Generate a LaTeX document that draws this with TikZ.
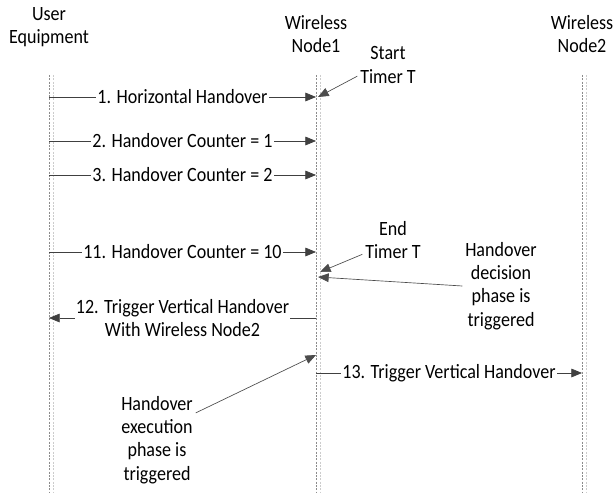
\documentclass[tikz,border=0pt]{standalone}
\usepackage{fontspec}
\setmainfont{Carlito}[FakeStretch=0.89]
\usetikzlibrary{arrows.meta}

\begin{document}
\begin{tikzpicture}[x=0.75pt,y=0.75pt,yscale=-1,xscale=1,
	font=\fontsize{15.2}{17.4}\selectfont,
	lifeline/.style={draw=black!45, line width=0.4pt, dash pattern=on 1.5pt off 1pt},
	lifeshade/.style={draw=black!20, line width=0.4pt, dash pattern=on 1.5pt off 1pt},
	msg/.style={draw=black!75, line width=0.5pt, -{Triangle[length=8pt,width=6.5pt]}},
	msglabel/.style={fill=white, inner sep=1pt, align=center},
	note/.style={align=center, inner sep=2pt},
	pointer/.style={draw=black!70, line width=0.5pt, -{Triangle[length=8pt,width=6.5pt]}}]
		%page is 613 x 492
		\useasboundingbox (0,0) rectangle (613,492);
		
		\node [note] (ue) at (49,27) {User\\Equipment};
		\node [note] (wn1) at (316,34) {Wireless\\Node1};
		\node [note] (wn2) at (582,34) {Wireless\\Node2};
		
		%lifelines
		\foreach \who/\x in {ue/49,wn1/316,wn2/582} {
			\coordinate (\who-top) at (\x,75);
			\coordinate (\who-bot) at (\x,492);
			\draw [lifeshade] ([xshift=3pt]\who-top) -- ([xshift=3pt]\who-bot);
			\draw [lifeline] (\who-top) -- (\who-bot);
		}
		
		%message levels
		\foreach \n/\y in {1/97,2/141,3/175,11/252,12/318,13/373} {
			\coordinate (ue-\n) at (49,\y);
			\coordinate (wn1-\n) at (316,\y);
			\coordinate (wn2-\n) at (582,\y);
		}
		
		\draw [msg] (ue-1) -- node [msglabel] {1. Horizontal Handover} (wn1-1);
		\draw [msg] (ue-2) -- node [msglabel] {2. Handover Counter = 1} (wn1-2);
		\draw [msg] (ue-3) -- node [msglabel] {3. Handover Counter = 2} (wn1-3);
		\draw [msg] (ue-11) -- node [msglabel] {11. Handover Counter = 10} (wn1-11);
		\draw [msg] (wn1-12) -- node [msglabel] {12. Trigger Vertical Handover\\With Wireless Node2} (ue-12);
		\draw [msg] (wn1-13) -- node [msglabel] {13. Trigger Vertical Handover} (wn2-13);
		
		%notes
		\node [note] (start) at (388,65) {Start\\Timer T};
		\node [note] (end) at (393,240) {End\\Timer T};
		\node [note] (decision) at (501,286) {Handover\\decision\\phase is\\triggered};
		\node [note] (execution) at (157,440) {Handover\\execution\\phase is\\triggered};
		
		\coordinate (start-tip) at (318,97);
		\coordinate (end-tip) at (320,272);
		\coordinate (decision-tip) at (318,277);
		\coordinate (execution-tip) at (316,355);
		
		\draw [pointer] (start.200) -- (start-tip);
		\draw [pointer] (end.205) -- (end-tip);
		\draw [pointer] (decision.west) -- (decision-tip);
		\draw [pointer] (execution.35) -- (execution-tip);
		
\end{tikzpicture}
\end{document}
